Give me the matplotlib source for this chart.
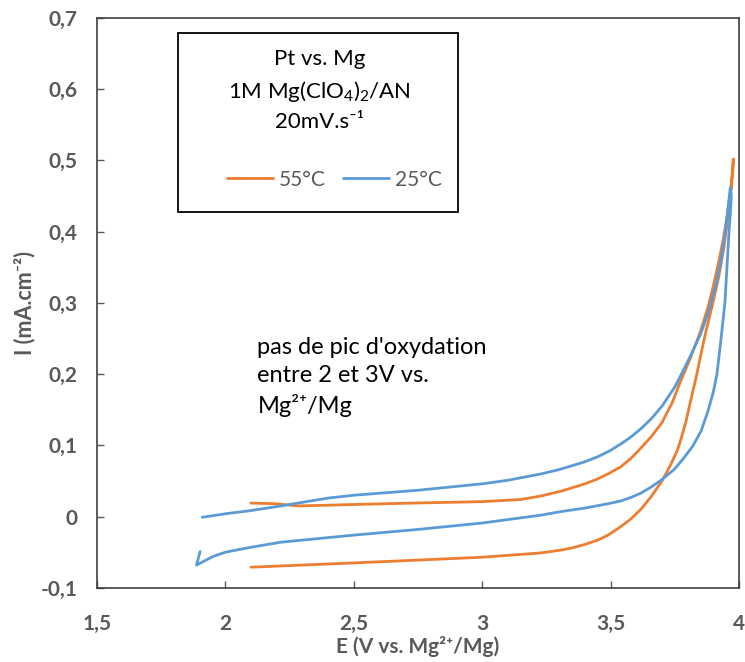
import numpy as np
import matplotlib.pyplot as plt
from matplotlib.patches import Rectangle

# ======================
# DATA
# ======================
# 55 degC: forward scan then reverse scan
e_55 = [2.10, 2.20, 2.28, 2.40, 2.50, 2.73, 3.00, 3.15, 3.23, 3.31, 3.40, 3.45,
        3.49, 3.54, 3.58, 3.62, 3.66, 3.70, 3.74, 3.77, 3.81, 3.85, 3.88, 3.90,
        3.92, 3.94, 3.955, 3.968, 3.978,
        3.976, 3.968, 3.955, 3.94, 3.92, 3.895, 3.871, 3.85, 3.832, 3.81, 3.793,
        3.775, 3.76, 3.73, 3.70, 3.66, 3.62, 3.58, 3.54, 3.49, 3.45, 3.40, 3.35,
        3.306, 3.228, 3.00, 2.75, 2.50, 2.30, 2.10]
i_55 = [0.019, 0.018, 0.015, 0.016, 0.017, 0.019, 0.021, 0.024, 0.029, 0.036,
        0.046, 0.053, 0.060, 0.070, 0.082, 0.097, 0.113, 0.132, 0.160, 0.188,
        0.222, 0.260, 0.295, 0.324, 0.356, 0.392, 0.425, 0.460, 0.502,
        0.485, 0.455, 0.415, 0.375, 0.335, 0.295, 0.260, 0.225, 0.194, 0.160,
        0.133, 0.110, 0.093, 0.070, 0.050, 0.029, 0.011, -0.003, -0.014, -0.026,
        -0.033, -0.039, -0.044, -0.047, -0.051, -0.057, -0.061, -0.065, -0.068,
        -0.071]

# 25 degC: forward scan then reverse scan
e_25 = [1.91, 2.00, 2.09, 2.20, 2.30, 2.40, 2.50, 2.75, 3.00, 3.10, 3.23, 3.30,
        3.40, 3.45, 3.50, 3.54, 3.58, 3.62, 3.66, 3.70, 3.75, 3.78, 3.81, 3.85,
        3.88, 3.91, 3.93, 3.95, 3.966,
        3.970, 3.966, 3.961, 3.953, 3.945, 3.93, 3.914, 3.90, 3.879, 3.852,
        3.82, 3.78, 3.747, 3.696, 3.66, 3.618, 3.58, 3.54, 3.489, 3.40, 3.306,
        3.228, 3.00, 2.75, 2.50, 2.30, 2.214, 2.085, 2.00, 1.952, 1.888, 1.902]
i_25 = [-0.001, 0.004, 0.008, 0.014, 0.020, 0.026, 0.030, 0.037, 0.046, 0.051,
        0.060, 0.066, 0.077, 0.084, 0.093, 0.102, 0.112, 0.124, 0.138, 0.155,
        0.182, 0.203, 0.225, 0.256, 0.286, 0.325, 0.360, 0.410, 0.462,
        0.450, 0.425, 0.400, 0.350, 0.300, 0.250, 0.200, 0.175, 0.148, 0.120,
        0.099, 0.080, 0.066, 0.051, 0.042, 0.033, 0.027, 0.022, 0.018, 0.012,
        0.007, 0.002, -0.009, -0.018, -0.026, -0.033, -0.036, -0.044, -0.050,
        -0.056, -0.068, -0.049]

x_ticks = [1.5, 2, 2.5, 3, 3.5, 4]
y_ticks = [-0.1, 0, 0.1, 0.2, 0.3, 0.4, 0.5, 0.6, 0.7]

# ======================
# STYLE
# ======================
plt.rcParams["font.family"] = ["Lato", "DejaVu Sans"]
plt.rcParams["mathtext.fontset"] = "custom"
plt.rcParams["mathtext.rm"] = "Lato"
plt.rcParams["mathtext.it"] = "Lato:italic"
plt.rcParams["mathtext.bf"] = "Lato:bold"

gray = "#595959"
orange = "#ED7D31"
blue = "#5B9BD5"

def fmt(v):
    return f"{v:g}".replace(".", ",")

# ======================
# PLOT
# ======================
fig = plt.figure(figsize=(7.45, 6.62), dpi=100)
ax = fig.add_axes([0.130, 0.112, 0.862, 0.861])

ax.plot(e_55, i_55, color=orange, linewidth=2.0, label="55°C",
        solid_joinstyle="round", solid_capstyle="round")
ax.plot(e_25, i_25, color=blue, linewidth=2.0, label="25°C",
        solid_joinstyle="round", solid_capstyle="round")

ax.set_xlim(1.5, 4)
ax.set_ylim(-0.1, 0.7)
ax.set_xticks(x_ticks)
ax.set_yticks(y_ticks)
ax.set_xticklabels([fmt(v) for v in x_ticks])
ax.set_yticklabels([fmt(v) for v in y_ticks])
ax.tick_params(direction="in", length=5, width=1, color=gray, labelcolor=gray,
               labelsize=15)
ax.tick_params(axis="x", pad=19)
ax.tick_params(axis="y", pad=14)
for lab in ax.get_xticklabels() + ax.get_yticklabels():
    lab.set_fontweight("bold")
for sp in ax.spines.values():
    sp.set_color("#404040")
    sp.set_linewidth(1.2)

ax.set_xlabel("E (V vs. Mg²⁺/Mg)", fontsize=15, fontweight="bold", color=gray, labelpad=1)
ax.set_ylabel("I (mA.cm⁻²)", fontsize=15.5, fontweight="bold", color=gray, labelpad=4)

# legend box with experimental conditions
ax.add_patch(Rectangle((0.126, 0.660), 0.436, 0.314, transform=ax.transAxes,
                       fill=False, edgecolor="black", linewidth=1.3))
ax.text(0.347, 0.927, "Pt vs. Mg", transform=ax.transAxes, ha="center", va="center", fontsize=16)
ax.text(0.347, 0.870, "1M Mg(ClO$_4$)$_2$/AN", transform=ax.transAxes, ha="center", va="center", fontsize=16)
ax.text(0.347, 0.817, "20mV.s⁻¹", transform=ax.transAxes, ha="center", va="center", fontsize=16)
ax.legend(loc="center", bbox_to_anchor=(0.37, 0.716), ncol=2, frameon=False,
          fontsize=15, labelcolor=gray, handlelength=2.2, handletextpad=0.3,
          columnspacing=0.8)

ax.text(0.25, 0.44, "pas de pic d'oxydation\nentre 2 et 3V vs.\nMg²⁺/Mg",
        transform=ax.transAxes, ha="left", va="top", fontsize=17, linespacing=1.42)

plt.savefig("out.png", dpi=100)
